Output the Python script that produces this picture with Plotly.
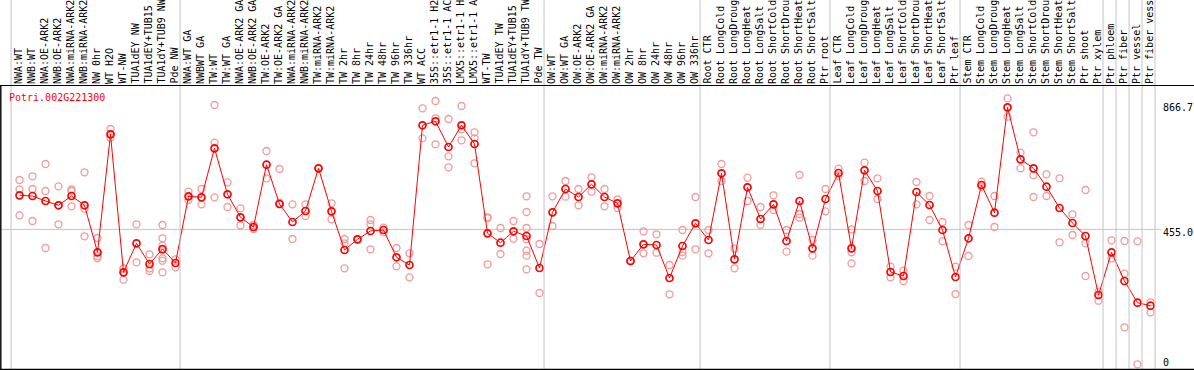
import plotly.graph_objects as go

labels = [
    "NWA:WT", "NWB:WT", "NWA:OE-ARK2", "NWB:OE-ARK2", "NWA:miRNA-ARK2", "NWB:miRNA-ARK2",
    "NW 0hr", "WT H2O", "WT-NW", "TUA1dEY NW", "TUA1dEY+TUB15 NW", "TUA1dY+TUB9 NW", "Pde NW",
    "NWA:WT GA", "NWBWT GA", "TW:WT", "TW:WT GA", "NWA:OE-ARK2 GA", "NWB:OE-ARK2 GA",
    "TW:OE-ARK2", "TW:OE-ARK2 GA", "NWA:miRNA-ARK2", "NWB:miRNA-ARK2", "TW:miRNA-ARK2",
    "TW:miRNA-ARK2", "TW 2hr", "TW 8hr", "TW 24hr", "TW 48hr", "TW 96hr", "TW 336hr", "WT ACC",
    "35S::etr1-1 H2O", "35S::etr1-1 ACC", "LMX5::etr1-1 H2O", "LMX5::etr1-1 ACC", "WT-TW",
    "TUA1dEY TW", "TUA1dEY+TUB15 TW", "TUA1dY+TUB9 TW", "Pde TW",
    "OW:WT", "OW:WT GA", "OW:OE-ARK2", "OW:OE-ARK2 GA", "OW:miRNA-ARK2", "OW:miRNA-ARK2",
    "OW 2hr", "OW 8hr", "OW 24hr", "OW 48hr", "OW 96hr", "OW 336hr",
    "Root CTR", "Root LongCold", "Root LongDrought", "Root LongHeat", "Root LongSalt",
    "Root ShortCold", "Root ShortDrought", "Root ShortHeat", "Root ShortSalt", "Ptr root",
    "Leaf CTR", "Leaf LongCold", "Leaf LongDrought", "Leaf LongHeat", "Leaf LongSalt",
    "Leaf ShortCold", "Leaf ShortDrought", "Leaf ShortHeat", "Leaf ShortSalt", "Ptr leaf",
    "Stem CTR", "Stem LongCold", "Stem LongDrought", "Stem LongHeat", "Stem LongSalt",
    "Stem ShortCold", "Stem ShortDrought", "Stem ShortHeat", "Stem ShortSalt", "Ptr shoot",
    "Ptr xylem", "Ptr phloem", "Ptr fiber", "Ptr vessel", "Ptr fiber vessel",
]

means = [
    570.0, 567.6, 550.8, 536.3, 567.6, 536.3, 377.7, 775.7, 310.3, 408.1, 338.3, 388.9, 341.7,
    566.6, 563.2, 728.5, 573.4, 495.8, 463.1, 673.2, 540.6, 479.9, 517.0, 661.0, 516.0, 385.5,
    421.6, 449.6, 453.0, 360.9, 334.9, 806.1, 819.6, 732.9, 806.1, 743.0, 441.8, 410.1, 448.6,
    432.7, 324.8,
    512.6, 591.2, 564.3, 607.1, 564.3, 543.0, 348.4, 404.7, 402.4, 291.1, 399.0, 475.5,
    419.2, 644.2, 354.1, 597.0, 490.0, 539.6, 415.9, 550.8, 391.2, 557.5,
    645.2, 391.2, 654.3, 584.5, 311.3, 297.8, 581.1, 537.3, 453.0, 294.4,
    425.0, 604.7, 511.3, 866.7, 691.4, 661.0, 599.0, 527.2, 476.6, 432.7, 233.7,
    377.7, 280.9, 207.8, 197.6,
]

reps = [
    [621.6, 590.2, 502.5], [634.1, 591.2, 483.3], [675.5, 584.5, 392.2], [600.3, 472.2, 536.4],
    [590.2, 584.5, 532.9], [647.6, 524.8, 431.7], [426.0, 364.3, 357.5], [793.6, 764.2, 776.7],
    [322.4, 285.3, 323.2], [472.2, 344.0], [371.0, 323.8, 314.7],
    [469.8, 425.0, 400.0, 385.5, 357.5, 349.4, 310.3], [354.1, 327.2],
    [582.1, 554.1], [591.2, 539.6], [874.5, 747.4, 563.2], [613.8, 530.5], [526.1, 468.8],
    [469.8, 463.1, 456.3], [719.4, 627.3], [658.7, 545.0, 540.0], [539.6, 422.6],
    [539.6, 500.2], [661.0, 661.0], [543.0, 489.0], [422.6, 408.1, 323.8], [421.6, 421.6],
    [486.7, 472.2, 387.9], [445.2, 460.8], [392.2, 330.5], [374.4, 293.4], [863.4, 762.2],
    [888.0, 829.7, 742.0], [827.3, 701.5, 664.4], [871.2, 792.6, 755.5], [782.5, 762.2, 677.9],
    [495.8, 337.3, 492.0], [459.7, 372.0], [483.3, 423.6],
    [566.6, 513.7, 459.7, 421.6, 383.1, 366.3, 320.4], [405.7, 240.5],
    [566.6, 466.4], [618.2, 565.3], [591.2, 536.3], [630.7, 582.1], [591.2, 532.9],
    [556.5, 527.2], [350.0, 347.0], [448.6, 374.4], [438.5, 376.4], [334.9, 236.1],
    [453.0, 366.3, 378.8], [564.3, 387.9],
    [453.0, 374.4], [675.5, 618.2], [389.9, 323.8], [629.3, 550.8], [530.5, 470.8],
    [570.0, 520.4], [453.0, 379.8], [638.4, 506.9, 494.4], [419.2, 366.3], [591.2, 516.0],
    [659.7, 635.1], [455.3, 377.7, 340.6], [679.9, 618.2], [627.3, 557.5], [329.2, 293.4],
    [315.7, 280.9], [614.8, 539.6], [567.6, 486.7], [479.9, 414.8], [329.2, 237.1],
    [469.8, 365.3], [615.8, 599.0], [567.6, 463.1], [897.1, 835.1], [713.7, 661.0],
    [782.5, 637.4, 564.3], [640.8, 567.6], [627.3, 411.5], [505.9, 436.1],
    [587.9, 408.1, 297.8], [244.9, 214.5],
    [418.2, 357.5], [415.9, 305.6, 124.8], [414.8, 0.0], [209.1, 175.4],
]

group_starts = [0, 13, 41, 53, 63, 73, 84, 85, 86, 87, 88]
gene = "Potri.002G221300"
axis_marks = [866.7, 455.0, 0]
axis_texts = ["866.7", "455.0", "0"]
gridline_value = 455.0

RED = "#ff0000"
PALE = "#f09a9a"
FONT = "DejaVu Sans Mono"

x_idx = list(range(len(means)))
rx, ry = [], []
for i, rl in enumerate(reps):
    for v in rl:
        rx.append(i)
        ry.append(v)

fig = go.Figure()
fig.add_trace(go.Scatter(
    x=rx, y=ry, mode="markers",
    marker=dict(symbol="circle-open", size=7, color=PALE, line=dict(width=1.3, color=PALE)),
    hoverinfo="skip", showlegend=False, cliponaxis=False,
))
fig.add_trace(go.Scatter(
    x=x_idx, y=means, mode="lines+markers",
    line=dict(color=RED, width=1),
    marker=dict(symbol="circle-open", size=7, color=RED, line=dict(width=1.7, color=RED)),
    text=labels, showlegend=False, cliponaxis=False,
))

W, H = 1194, 370
label_bottom = 85.5  # px from top
top_paper = 1 - label_bottom / H

shapes = []
shapes.append(dict(type="rect", xref="paper", yref="paper", x0=0, x1=1, y0=top_paper, y1=1,
                   fillcolor="white", line=dict(width=0), layer="above"))
for g in group_starts:
    shapes.append(dict(type="line", xref="x", yref="paper", x0=g - 0.65, x1=g - 0.65, y0=0, y1=1,
                       line=dict(color="#c4c4c4", width=1), layer="above"))
shapes.append(dict(type="line", xref="paper", yref="y", x0=0, x1=1161 / W,
                   y0=gridline_value, y1=gridline_value,
                   line=dict(color="#c4c4c4", width=1), layer="below"))
shapes.append(dict(type="line", xref="paper", yref="paper", x0=0, x1=1, y0=top_paper, y1=top_paper,
                   line=dict(color="black", width=1.2), layer="above"))
shapes.append(dict(type="line", xref="paper", yref="paper", x0=0, x1=1, y0=0.6 / H, y1=0.6 / H,
                   line=dict(color="black", width=1.2), layer="above"))
shapes.append(dict(type="line", xref="paper", yref="paper", x0=0.8 / W, x1=0.8 / W, y0=0, y1=top_paper,
                   line=dict(color="black", width=1.4), layer="above"))

annotations = []
for i, lab in enumerate(labels):
    annotations.append(dict(
        x=i, y=1 - 84 / H, xref="x", yref="paper", text=lab, showarrow=False,
        textangle=-90, xanchor="center", yanchor="bottom", xshift=-1.5, yshift=-1,
        font=dict(family=FONT, size=10, color="black"), borderpad=0,
    ))
annotations.append(dict(
    x=8 / W, y=1 - 97 / H, xref="paper", yref="paper", text=gene, showarrow=False,
    xanchor="left", yanchor="middle", font=dict(family=FONT, size=10, color=RED), borderpad=0,
))
shifts = [0, -3, 2]
for v, t, s in zip(axis_marks, axis_texts, shifts):
    annotations.append(dict(
        x=1162 / W, y=v, xref="paper", yref="y", text=t, showarrow=False,
        xanchor="left", yanchor="middle", yshift=s,
        font=dict(family=FONT, size=10, color="black"), borderpad=0,
    ))

xr = [-19.5 / 13, (W - 19.5) / 13]
yr = [(364.3 - H) / 0.2965, 364.3 / 0.2965]

fig.update_layout(
    width=W, height=H, margin=dict(l=0, r=0, t=0, b=0),
    paper_bgcolor="white", plot_bgcolor="white",
    xaxis=dict(range=xr, visible=False, fixedrange=True),
    yaxis=dict(range=yr, visible=False, fixedrange=True),
    shapes=shapes, annotations=annotations, showlegend=False,
)
fig.write_html(
    "out.html",
    config={"displayModeBar": False},
    post_script="document.body.style.margin='0';document.body.style.overflow='hidden';",
)
